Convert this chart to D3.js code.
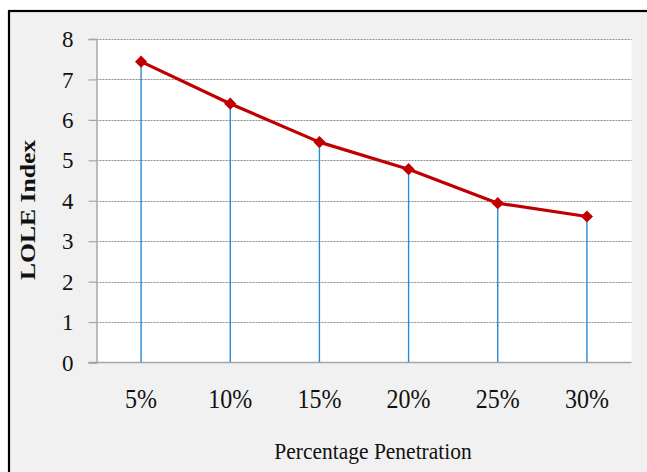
<!DOCTYPE html>
<html>
<head>
<meta charset="utf-8">
<script src="https://cdn.jsdelivr.net/npm/d3@7"></script>
<style>
  html, body { margin: 0; padding: 0; background: #ffffff; }
  svg { display: block; }
  text { font-family: "Liberation Serif", "Times New Roman", serif; fill: #111; }
</style>
</head>
<body>
<svg id="chart" width="647" height="472"></svg>
<script>
// Loss-of-load expectation index by percentage penetration
const categories = ["5%", "10%", "15%", "20%", "25%", "30%"];
const loleValues = [7.44, 6.40, 5.45, 4.78, 3.94, 3.61];
const yTicks = [0, 1, 2, 3, 4, 5, 6, 7, 8];

const svg = d3.select("#chart");
const W = 647, H = 472;
const serif = '"Liberation Serif", "Times New Roman", serif';

// framed panel background
svg.append("rect")
  .attr("x", 9).attr("y", 11)
  .attr("width", W + 20).attr("height", H + 20)
  .attr("fill", "#f1f1f1")
  .attr("stroke", "#000").attr("stroke-width", 2.2);

const plot = { left: 96.5, right: 631.5, top: 39, bottom: 362.5 };

const x = d3.scaleBand().domain(categories)
  .range([plot.left, plot.right]).paddingInner(0).paddingOuter(0);
const y = d3.scaleLinear().domain([0, 8]).range([plot.bottom, plot.top]);

// plot area
svg.append("rect")
  .attr("x", plot.left).attr("y", plot.top)
  .attr("width", plot.right - plot.left).attr("height", plot.bottom - plot.top)
  .attr("fill", "#ffffff");

// horizontal gridlines
svg.append("g").selectAll("line").data(yTicks.filter(d => d > 0)).join("line")
  .attr("x1", plot.left).attr("x2", plot.right)
  .attr("y1", d => Math.round(y(d)) + 0.5).attr("y2", d => Math.round(y(d)) + 0.5)
  .attr("stroke", "#8c8c8c").attr("stroke-width", 1)
  .attr("stroke-dasharray", "2,1");

// y axis
const yAxis = d3.axisLeft(y).tickValues(yTicks).tickSize(8).tickPadding(15)
  .tickFormat(d3.format("d"));
const gy = svg.append("g").attr("transform", `translate(${plot.left},0)`).call(yAxis)
  .attr("font-family", serif);
gy.select(".domain").attr("stroke", "#a6a6a6").attr("stroke-width", 1.5);
gy.selectAll(".tick line").attr("stroke", "#a6a6a6").attr("stroke-width", 1.2);
gy.selectAll(".tick text")
  .style("font-family", serif)
  .style("font-size", "23px").attr("fill", "#111").attr("dy", "0.33em");

// x axis
const xAxis = d3.axisBottom(x).tickSize(0).tickPadding(0);
const gx = svg.append("g").attr("transform", `translate(0,${plot.bottom})`).call(xAxis)
  .attr("font-family", serif);
gx.select(".domain").attr("stroke", "#a6a6a6").attr("stroke-width", 1.5)
  .attr("d", `M${plot.left - 8},0H${plot.right}`);
gx.selectAll(".tick text")
  .style("font-family", serif)
  .style("font-size", "24px").attr("fill", "#111")
  .attr("dy", 0).attr("y", 0)
  .attr("transform", "translate(0,45) scale(1,1.15)");

// drop lines from each point to the axis
const cx = d => x(d) + x.bandwidth() / 2;
svg.append("g").selectAll("line").data(categories).join("line")
  .attr("x1", d => cx(d)).attr("x2", d => cx(d))
  .attr("y1", (d, i) => y(loleValues[i])).attr("y2", plot.bottom - 0.5)
  .attr("stroke", "#2a8bd6").attr("stroke-width", 1.4);

// series line
const line = d3.line().x((d, i) => cx(categories[i])).y(d => y(d));
svg.append("path").datum(loleValues)
  .attr("d", line)
  .attr("fill", "none").attr("stroke", "#c00000").attr("stroke-width", 3.2)
  .attr("stroke-linejoin", "round");

// diamond markers
svg.append("g").selectAll("path").data(loleValues).join("path")
  .attr("d", d3.symbol(d3.symbolDiamond2, 95))
  .attr("transform", (d, i) => `translate(${cx(categories[i])},${y(d)})`)
  .attr("fill", "#c00000");

// axis titles
svg.append("text")
  .attr("transform", "translate(35,210) rotate(-90) scale(1.22,1)")
  .attr("text-anchor", "middle")
  .style("font-family", serif)
  .style("font-size", "21px").style("font-weight", "bold")
  .text("LOLE Index");

svg.append("text")
  .attr("transform", "translate(373,459) scale(1,1.12)")
  .attr("text-anchor", "middle")
  .style("font-family", serif)
  .style("font-size", "21.5px")
  .text("Percentage Penetration");
</script>
</body>
</html>
